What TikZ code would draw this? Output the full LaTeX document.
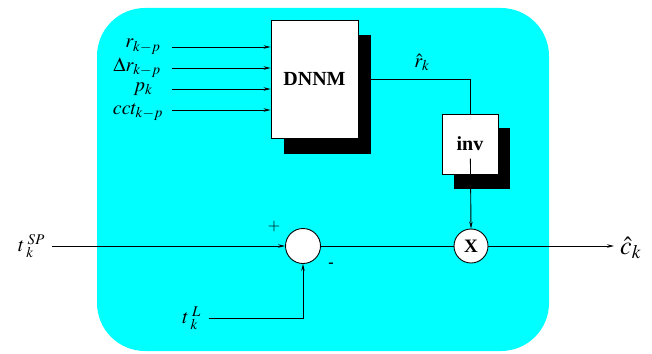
\documentclass[tikz,border=0pt]{standalone}
\usepackage{mathptmx}
\usepackage{fontspec}
\setmainfont{Liberation Serif}
\usetikzlibrary{arrows.meta}
\definecolor{bgcyan}{RGB}{0,255,255}
\begin{document}
\begin{tikzpicture}[x=1pt,y=-1pt,
  arr/.style={-{Stealth[length=7pt,width=3.5pt]}, line width=0.9pt},
  ln/.style={line width=0.9pt},
  blk/.style={draw, line width=0.9pt, fill=white, inner sep=0pt,
              font=\fontsize{20}{24}\selectfont\bfseries},
  shd/.style={fill=black},
  circ/.style={draw, circle, line width=0.9pt, fill=white, inner sep=0pt,
               font=\fontsize{19}{22}\selectfont\bfseries},
  lbl/.style={font=\fontsize{20}{24}\selectfont, inner sep=0pt},
  sgn/.style={font=\fontsize{16}{18}\selectfont, inner sep=0pt}]
\useasboundingbox (0,0) rectangle (652,353);
% background
\fill[bgcyan, rounded corners=48pt] (97,8) rectangle (549,351);
% shadows
\fill[shd] (284,35) rectangle (371,154);
\fill[shd] (454,128) rectangle (510,189);
% blocks
\node[blk, minimum width=87pt, minimum height=118pt] (dnnm) at (314.5,79) {DNNM};
\node[blk, minimum width=56pt, minimum height=60pt] (inv) at (470,144) {inv};
\node[circ, minimum size=35pt] (sum) at (303,246) {};
\node[circ, minimum size=34pt] (mul) at (471,246) {X};
% input coordinates
\coordinate (i1) at (172,47);
\coordinate (i2) at (172,68);
\coordinate (i3) at (172,89);
\coordinate (i4) at (172,110);
\coordinate (tsp) at (52,246);
\coordinate (tl) at (209,318);
\coordinate (out) at (614,246);
% labels
\node[lbl, anchor=base] (l1) at (143,48) {$r_{k-p}$};
\node[lbl, anchor=base] (l2) at (137,71) {$\Delta r_{k-p}$};
\node[lbl, anchor=base] (l3) at (143,91) {$p_{k}$};
\node[lbl, anchor=base] (l4) at (138,114) {$cct_{k-p}$};
\node[lbl, anchor=base] (lr) at (422,67) {$\hat{r}_{k}$};
\node[lbl, anchor=west, font=\fontsize{26}{30}\selectfont] (lc) at (620,248) {$\hat{c}_{k}$};
\node[lbl, anchor=east] (lsp) at (45,246) {$t^{\;SP}_{\;k}$};
\node[lbl, anchor=east] (ll) at (201,318) {$t^{\;L}_{\;k}$};
\node[sgn] (plus) at (274,227) {$+$};
\node[sgn, font=\fontsize{16}{18}\selectfont\bfseries] (minus) at (331,265) {-};
% connectors
\draw[arr] (i1) -- (i1 -| dnnm.west);
\draw[arr] (i2) -- (i2 -| dnnm.west);
\draw[arr] (i3) -- (i3 -| dnnm.west);
\draw[arr] (i4) -- (i4 -| dnnm.west);
\draw[ln] (dnnm.east) -| (inv.north);
\draw[arr, shorten <=45pt] (inv.north) -- (mul.north);
\draw[arr] (tsp) -- (sum.west);
\draw[arr] (tl) -| (sum.south);
\draw[ln] (sum.east) -- (mul.west);
\draw[arr] (mul.east) -- (out);
\end{tikzpicture}
\end{document}
